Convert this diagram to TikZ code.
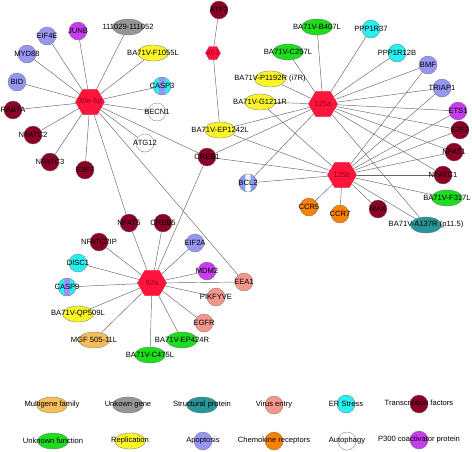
\documentclass[tikz,border=0pt]{standalone}
\usepackage{fontspec}
\setmainfont{Liberation Sans}
\usepackage{tikz}
\usetikzlibrary{shapes.geometric,backgrounds}
\definecolor{hubred}{RGB}{255,20,60}
\definecolor{hubtext}{RGB}{150,0,30}
\definecolor{tfred}{RGB}{140,0,40}
\definecolor{apopblue}{RGB}{150,150,245}
\definecolor{pthreepurple}{RGB}{200,60,240}
\definecolor{unkgray}{RGB}{150,150,150}
\definecolor{replyellow}{RGB}{250,245,40}
\definecolor{ufungreen}{RGB}{30,220,30}
\definecolor{ercyan}{RGB}{40,240,240}
\definecolor{structteal}{RGB}{40,150,150}
\definecolor{virussalmon}{RGB}{245,150,140}
\definecolor{chemoorange}{RGB}{250,130,0}
\definecolor{multiorange}{RGB}{245,190,90}

\begin{document}
\begin{tikzpicture}[
    x=1pt, y=-1pt,
    font=\fontsize{7.6}{9}\selectfont,
    gene/.style={
		circle,
		draw=black!55,
		line width=0.3pt,
		minimum size=18pt,
		inner sep=0pt
	},
    orf/.style={
		ellipse,
		draw=black!55,
		line width=0.3pt,
		minimum width=31pt,
		minimum height=16pt,
		inner sep=0pt
	},
    mirna/.style={
		regular polygon,
		regular polygon sides=6,
		draw=hubred!85!black,
		line width=0.3pt,
		fill=hubred,
		minimum size=29pt,
		inner sep=0pt,
		label={[text=hubtext]center:#1}
	},
    tf/.style={gene, fill=tfred, label=center:#1},
    apop/.style={gene, fill=apopblue, label=center:#1},
    pthree/.style={gene, fill=pthreepurple, label=center:#1},
    erstress/.style={gene, fill=ercyan, label=center:#1},
    virus/.style={gene, fill=virussalmon, label=center:#1},
    chemo/.style={gene, fill=chemoorange, label=center:#1},
    autoph/.style={gene, fill=white, label=center:#1},
    erapop/.style={gene, fill=ercyan, label=center:#1,
		path picture={\fill[apopblue] ([xshift=-3pt]path picture bounding box.south) rectangle ([xshift=3pt]path picture bounding box.north);}},
    apopwhite/.style={gene, fill=apopblue, label=center:#1,
		path picture={\fill[ercyan!45] ([xshift=-3pt]path picture bounding box.south) rectangle ([xshift=3pt]path picture bounding box.north);
		\fill[white] ([xshift=-1.8pt]path picture bounding box.south) rectangle ([xshift=1.8pt]path picture bounding box.north);}},
    repl/.style={orf, fill=replyellow, label=center:#1},
    ufun/.style={orf, fill=ufungreen, label=center:#1},
    unkgene/.style={orf, fill=unkgray, label=center:#1},
    struct/.style={orf, fill=structteal, label=center:#1},
    multi/.style={orf, fill=multiorange, label=center:#1},
    link/.style={draw=black!60, line width=0.45pt}
  ]
  \useasboundingbox (0,0) rectangle (472,451);

  % miRNA hubs
  \node [mirna=30e-5p] (m30e) at (90,102) {};
  \node [mirna=451, minimum size=15pt] (m451) at (213,53) {};
  \node [mirna=125a] (m125a) at (323,104) {};
  \node [mirna=125b] (m125b) at (342,175) {};
  \node [mirna=92a] (m92a) at (152,283) {};

  % targets of 30e-5p
  \node [pthree=JUNB] (junb) at (78,31) {};
  \node [apop=EIF4E] (eif4e) at (47,36) {};
  \node [unkgene=111029-111052] (g111029) at (128,27) {};
  \node [apop=MYD88] (myd88) at (27,54) {};
  \node [repl=BA71V-F1055L] (f1055l) at (153,53) {};
  \node [apop=BID] (bid) at (17,82) {};
  \node [erapop=CASP3] (casp3) at (162,86) {};
  \node [tf=RAB7A] (rab7a) at (13,110) {};
  \node [autoph=BECN1] (becn1) at (157,112) {};
  \node [tf=NFATC2] (nfatc2) at (33,135) {};
  \node [autoph=ATG12] (atg12) at (145,143) {};
  \node [tf=NFATC3] (nfatc3) at (50,162) {};
  \node [tf=E2F7] (e2f7) at (85,170) {};

  % 451 and shared
  \node [tf=ATF2] (atf2) at (219,10) {};
  \node [repl=BA71V-EP1242L] (ep1242l) at (220,130) {};
  \node [tf=CREB1] (creb1) at (207,157) {};

  % targets of 125a / 125b
  \node [repl=BA71V-P1192R (i7R)] (p1192r) at (270,79) {};
  \node [repl=BA71V-G1211R] (g1211r) at (260,102) {};
  \node [ufun=BA71V-C257L] (c257l) at (288,52) {};
  \node [ufun=BA71V-B407L] (b407l) at (317,27) {};
  \node [erstress=PPP1R37] (ppp1r37) at (371,29) {};
  \node [erstress=PPP1R12B] (ppp1r12b) at (397,53) {};
  \node [apop=BMF] (bmf) at (428,65) {};
  \node [apop=TRIAP1] (triap1) at (442,88) {};
  \node [pthree=ETS1] (ets1) at (458,111) {};
  \node [tf=E2F2] (e2f2) at (460,130) {};
  \node [tf=NFAT1] (nfat1) at (454,152) {};
  \node [tf=NFATC1] (nfatc1) at (443,175) {};
  \node [ufun=BA71V-F317L] (f317l) at (447,198) {};
  \node [struct=BA71V-A137R (p11.5)] (a137r) at (426,225) {};
  \node [tf=MAX] (max) at (378,209) {};
  \node [chemo=CCR7] (ccr7) at (340,214) {};
  \node [chemo=CCR5] (ccr5) at (309,207) {};
  \node [apopwhite=BCL2] (bcl2) at (248,183) {};

  % targets of 92a
  \node [tf=NFAT5] (nfat5) at (129,223) {};
  \node [tf=CREB5] (creb5) at (163,223) {};
  \node [tf=NFATC2IP] (nfatc2ip) at (99,242) {};
  \node [apop=EIF2A] (eif2a) at (195,243) {};
  \node [erstress=DISC1] (disc1) at (78,263) {};
  \node [pthree=MDM2] (mdm2) at (207,271) {};
  \node [erapop=CASP9] (casp9) at (67,287) {};
  \node [virus=EEA1] (eea1) at (244,282) {};
  \node [virus=PIKFYVE] (pikfyve) at (216,297) {};
  \node [repl=BA71V-QP509L] (qp509l) at (78,314) {};
  \node [virus=EGFR] (egfr) at (204,323) {};
  \node [multi=MGF 505-11L] (mgf) at (94,340) {};
  \node [ufun=BA71V-EP424R] (ep424r) at (182,340) {};
  \node [ufun=BA71V-C475L] (c475l) at (150,355) {};

  % edges
  \begin{scope}[on background layer]
    \foreach \n in {junb,eif4e,g111029,myd88,f1055l,bid,casp3,rab7a,becn1,nfatc2,atg12,nfatc3,e2f7,nfat5,eea1,creb1}
      \draw [link] (m30e) -- (\n);
    \foreach \n in {atf2,ep1242l}
      \draw [link] (m451) -- (\n);
    \foreach \n in {p1192r,g1211r,c257l,b407l,ppp1r37,ppp1r12b,bmf,triap1,ets1,e2f2,nfat1,nfatc1,a137r,bcl2,creb1,ep1242l}
      \draw [link] (m125a) -- (\n);
    \foreach \n in {bmf,triap1,ets1,e2f2,nfat1,nfatc1,f317l,a137r,max,ccr7,ccr5,bcl2,creb1,ep1242l,g1211r}
      \draw [link] (m125b) -- (\n);
    \foreach \n in {nfat5,creb5,nfatc2ip,eif2a,disc1,mdm2,casp9,eea1,pikfyve,qp509l,egfr,mgf,ep424r,c475l,creb1}
      \draw [link] (m92a) -- (\n);
  \end{scope}

  % legend
  \node [multi=Multigene family] (lmulti) at (52,405) {};
  \node [unkgene=Unkown gene] (lunk) at (128,405) {};
  \node [struct=Structural protein] (lstruct) at (202,405) {};
  \node [virus=Virus entry] (lvirus) at (274,405) {};
  \node [erstress=ER Stress] (ler) at (346,404) {};
  \node [tf=Transcription factors] (ltf) at (419,404) {};
  \node [ufun=Unknown function] (lufun) at (53,441) {};
  \node [repl=Replication] (lrepl) at (130,441) {};
  \node [apop=Apoptosis] (lapop) at (203,441) {};
  \node [chemo=Chemokine receptors] (lchemo) at (274,441) {};
  \node [autoph=Autophagy] (lautoph) at (347,441) {};
  \node [pthree=P300 coactivator protein] (lpthree) at (419,440) {};

\end{tikzpicture}
\end{document}
